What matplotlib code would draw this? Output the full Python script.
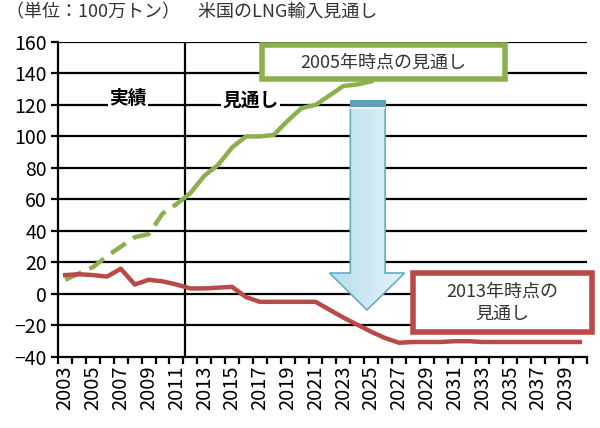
import numpy as np
import matplotlib.pyplot as plt
from matplotlib.patches import Polygon, Rectangle
from matplotlib.colors import LinearSegmentedColormap

plt.rcParams['font.family'] = ['Noto Sans CJK JP', 'DejaVu Sans']

years = list(range(2003, 2041))
# 2005年時点の見通し (2003-2011 実績は破線)
green_years = list(range(2003, 2026))
green_vals = [9, 13, 17, 24, 30, 36, 38, 51, 57, 64, 75, 82, 93, 100, 100, 101,
              110, 118, 120, 126, 132, 133, 135]
# 2013年時点の見通し
red_vals = [12, 12.5, 12, 11, 16, 6, 9, 8, 6, 3.5, 3.5, 4, 4.5, -2, -5, -5,
            -5, -5, -5, -10, -15, -19.5, -24, -28, -31, -30.5, -30.5, -30.5,
            -30, -30, -30.5, -30.5, -30.5, -30.5, -30.5, -30.5, -30.5, -30.5]
yticks = list(range(-40, 161, 20))

green = '#8DB04F'
red = '#B84A47'

fig = plt.figure(figsize=(6, 4.28), dpi=100)
ax = fig.add_axes([0.097, 0.166, 0.881, 0.736])

x_all = np.arange(len(years)) + 0.5
xg = np.arange(len(green_years)) + 0.5
n_act = 9  # 2003-2011

ax.plot(xg[:n_act], green_vals[:n_act], color=green, lw=3.2, ls=(0, (4, 2)),
        solid_capstyle='butt', zorder=3)
ax.plot(xg[n_act - 1:], green_vals[n_act - 1:], color=green, lw=3.2, zorder=3)
ax.plot(x_all, red_vals, color=red, lw=3.2, zorder=3)

ax.set_xlim(0, len(years))
ax.set_ylim(-40, 160)
ax.set_yticks(yticks)
for v in yticks[1:]:
    ax.axhline(v, color='black', lw=1.6, zorder=1)
ax.axvline(9.1, color='black', lw=1.6, zorder=1)

ax.set_xticks(x_all[::2])
ax.set_xticklabels([str(y) for y in years[::2]], rotation=90, fontsize=14.5)
ax.set_xticks(np.arange(len(years) + 1), minor=True)
ax.tick_params(axis='x', which='major', length=0, pad=6)
ax.tick_params(axis='x', which='minor', length=5, width=1.6, direction='out')
ax.tick_params(axis='y', length=5, width=1.6, labelsize=14, pad=3)
for s in ['top', 'right']:
    ax.spines[s].set_visible(False)
for s in ['left', 'bottom']:
    ax.spines[s].set_linewidth(1.6)

# labels
ax.text(5.0, 124, '実績', fontsize=13.5, fontweight='bold', ha='center', va='center',
        bbox=dict(facecolor='white', edgecolor='none', pad=1), zorder=4)
ax.text(13.8, 123, '見通し', fontsize=13.5, fontweight='bold', ha='center', va='center',
        bbox=dict(facecolor='white', edgecolor='none', pad=1), zorder=4)

# arrow (gradient)
arrow_pts = [(21.0, 119), (23.5, 119), (23.5, 13.3), (24.9, 13.3), (22.2, -10.2),
             (19.5, 13.3), (21.0, 13.3)]
poly = Polygon(arrow_pts, closed=True, facecolor='none', edgecolor='#6AAAC6', lw=1.2, zorder=6)
ax.add_patch(poly)
grad = np.linspace(0, 1, 100).reshape(1, -1)
cmap = LinearSegmentedColormap.from_list('bl', ['#B6DEEF', '#E4F3FA'])
im = ax.imshow(grad, extent=[19.5, 24.9, -10.2, 119], aspect='auto', cmap=cmap, zorder=5)
im.set_clip_path(poly)
ax.add_patch(Rectangle((21.0, 119.5), 2.5, 3.8, facecolor='#5E9EBB', edgecolor='#5E9EBB',
                       lw=0.8, zorder=6))
ax.add_patch(Rectangle((21.0, 117.6), 2.5, 0.8, facecolor='#E8F5FB', edgecolor='none', zorder=7))

# boxes
ax.add_patch(Rectangle((14.65, 136.5), 17.45, 21.5, facecolor='white', edgecolor=green,
                       lw=4, zorder=8, clip_on=False))
ax.text(23.4, 147, '2005年時点の見通し', fontsize=13, color='#333333', ha='center',
        va='center', zorder=9)
ax.add_patch(Rectangle((25.5, -24), 12.85, 37, facecolor='white', edgecolor=red,
                       lw=4, zorder=8, clip_on=False))
ax.text(31.9, -5.5, '2013年時点の\n見通し', fontsize=13, color='#333333', ha='center',
        va='center', linespacing=1.3, zorder=9)

fig.text(0.01, 0.972, '（単位：100万トン）　米国のLNG輸入見通し', fontsize=13,
         color='#333333', ha='left', va='center')

fig.savefig('out.png', dpi=100)
